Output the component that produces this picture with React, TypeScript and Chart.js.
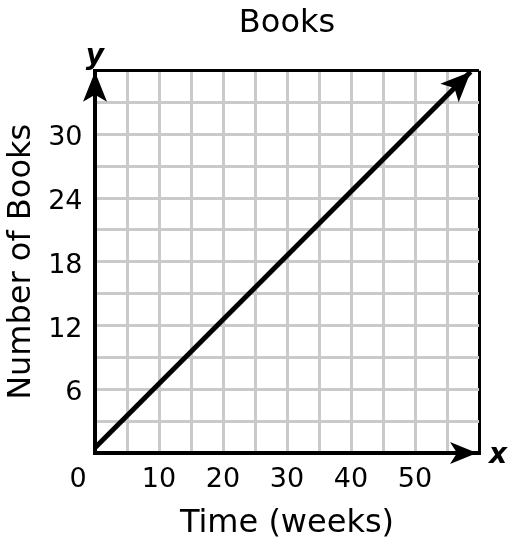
import { useEffect, useRef } from 'react'
import { Chart, registerables } from 'chart.js'

Chart.register(...registerables)

// line: start and arrow tip
const weeks = [0, 58.7]
const books = [0.5, 35.9]
// tick labels that are printed (grid every 5 weeks / 3 books)
const xTickLabels = [10, 20, 30, 40, 50]
const yTickLabels = [6, 12, 18, 24, 30]

const FONT = "'DejaVu Sans', Verdana, sans-serif"
const GRID = '#cacaca'

function drawHead(ctx: CanvasRenderingContext2D, tipX: number, tipY: number, angle: number, len: number, half: number, notch: number) {
  ctx.save()
  ctx.translate(tipX, tipY)
  ctx.rotate(angle)
  ctx.beginPath()
  ctx.moveTo(0, 0)
  ctx.lineTo(-len, -half)
  ctx.lineTo(-notch, 0)
  ctx.lineTo(-len, half)
  ctx.closePath()
  ctx.fill()
  ctx.restore()
}

// arrowheads, axis letters and the corner "0"
const arrowPlugin = {
  id: 'arrows',
  afterDatasetsDraw(chart: any) {
    const { ctx, chartArea, scales } = chart
    const xs = scales.x
    const ys = scales.y
    ctx.save()
    ctx.fillStyle = '#000'
    drawHead(ctx, chartArea.left, chartArea.top + 1, -Math.PI / 2, 30, 12, 23)
    drawHead(ctx, chartArea.right - 2, chartArea.bottom, 0, 27, 11, 20)

    const n = weeks.length
    const x1 = xs.getPixelForValue(weeks[n - 1])
    const y1 = ys.getPixelForValue(books[n - 1])
    const x0 = xs.getPixelForValue(weeks[n - 2])
    const y0 = ys.getPixelForValue(books[n - 2])
    drawHead(ctx, x1, y1, Math.atan2(y1 - y0, x1 - x0), 30, 13, 23)

    ctx.font = `italic bold 28px ${FONT}`
    ctx.textAlign = 'center'
    ctx.textBaseline = 'alphabetic'
    ctx.fillText('y', chartArea.left, chartArea.top - 7)
    ctx.fillText('x', chartArea.right + 19, chartArea.bottom + 10)

    ctx.font = `27px ${FONT}`
    ctx.fillText('0', xs.getPixelForValue(0) - 17, chartArea.bottom + 34)
    ctx.restore()
  },
}

export default function App() {
  const chartRef = useRef<HTMLCanvasElement>(null)
  const chartInstance = useRef<Chart | null>(null)

  useEffect(() => {
    if (!chartRef.current) return
    if (chartInstance.current) chartInstance.current.destroy()

    const config = {
      type: 'line',
      data: {
        datasets: [
          {
            data: weeks.map((w, i) => ({ x: w, y: books[i] })),
            borderColor: '#000',
            borderWidth: 5,
            pointRadius: 0,
            fill: false,
          },
        ],
      },
      options: {
        animation: false,
        responsive: true,
        maintainAspectRatio: false,
        layout: { padding: { top: 0, right: 31, bottom: 0, left: 0 } },
        plugins: {
          legend: { display: false },
          tooltip: { enabled: false },
          title: {
            display: true,
            text: 'Books',
            fullSize: false,
            color: '#000',
            font: { family: FONT, size: 32, weight: 'normal' },
            padding: { top: 4.8, bottom: 27.5 },
          },
        },
        scales: {
          x: {
            type: 'linear',
            min: 0,
            max: 60,
            afterFit: (s: any) => {
              s.height = 101
            },
            ticks: {
              stepSize: 5,
              autoSkip: false,
              maxRotation: 0,
              padding: 11,
              color: '#000',
              font: { family: FONT, size: 27 },
              callback: (v: any) => (xTickLabels.includes(v) ? String(v) : ''),
            },
            grid: {
              drawTicks: false,
              color: (c: any) => (c.tick && c.tick.value === 60 ? '#000' : GRID),
              lineWidth: 3,
            },
            border: { color: '#000', width: 4 },
            title: {
              display: true,
              text: 'Time (weeks)',
              color: '#000',
              font: { family: FONT, size: 32 },
              padding: { top: 0, bottom: 10.8 },
            },
          },
          y: {
            type: 'linear',
            min: 0,
            max: 36,
            afterFit: (s: any) => {
              s.width = 95
            },
            ticks: {
              stepSize: 3,
              autoSkip: false,
              padding: 12.5,
              labelOffset: 4,
              color: '#000',
              font: { family: FONT, size: 27 },
              callback: (v: any) => (yTickLabels.includes(v) ? String(v) : ''),
            },
            grid: {
              drawTicks: false,
              color: (c: any) => (c.tick && c.tick.value === 36 ? '#000' : GRID),
              lineWidth: 3,
            },
            border: { color: '#000', width: 4 },
            title: {
              display: true,
              text: 'Number of Books',
              color: '#000',
              font: { family: FONT, size: 32 },
              padding: { top: 2.8, bottom: 0 },
            },
          },
        },
      },
      plugins: [arrowPlugin],
    }

    chartInstance.current = new Chart(chartRef.current, config as any)

    return () => {
      if (chartInstance.current) {
        chartInstance.current.destroy()
        chartInstance.current = null
      }
    }
  }, [])

  return (
    <div style={{ position: 'absolute', left: 0, top: 0, width: 510, height: 554, background: '#fff' }}>
      <canvas ref={chartRef} />
    </div>
  )
}
